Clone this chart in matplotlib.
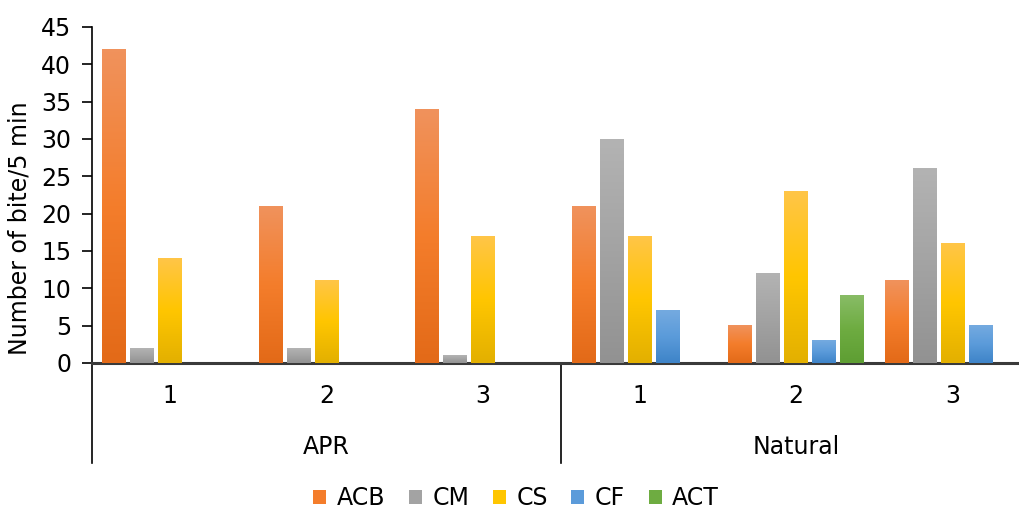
import numpy as np
import matplotlib
matplotlib.use("Agg")
import matplotlib.pyplot as plt
from matplotlib.patches import Patch
from matplotlib.colors import LinearSegmentedColormap

plt.rcParams['font.family'] = ['DejaVu Sans']

groups = ["APR", "Natural"]
sub_labels = ["1", "2", "3", "1", "2", "3"]
series = ["ACB", "CM", "CS", "CF", "ACT"]
ACB = [42, 21, 34, 21, 5, 11]
CM = [2, 2, 1, 30, 12, 26]
CS = [14, 11, 17, 17, 23, 16]
CF = [0, 0, 0, 7, 3, 5]
ACT = [0, 0, 0, 0, 9, 0]
values = [ACB, CM, CS, CF, ACT]

# gradient stops (top, middle, bottom)
grad = {
    "ACB": ["#F0925C", "#F47D2B", "#E36A18"],
    "CM": ["#B3B3B3", "#A3A3A3", "#929292"],
    "CS": ["#FFC547", "#FFC600", "#E3B000"],
    "CF": ["#74AAE0", "#5B9BDA", "#3E84C8"],
    "ACT": ["#88BC66", "#6EAC41", "#5E9E33"],
}
legend_col = {k: v[1] for k, v in grad.items()}

W, H = 1020, 514
FS = 17
fig = plt.figure(figsize=(W / 100, H / 100), dpi=100)
ax = fig.add_axes([92 / W, (H - 363) / H, (1031 - 92) / W, (363 - 27) / H])

step = 0.179
width = 0.153
x = np.arange(6) + 0.5
for i, (name, vals) in enumerate(zip(series, values)):
    cmap = LinearSegmentedColormap.from_list(name, grad[name][::-1])
    g = np.linspace(0, 1, 100).reshape(-1, 1)
    bars = ax.bar(x + (i - 2) * step, vals, width, color=legend_col[name], zorder=2)
    for b in bars:
        h = b.get_height()
        if h <= 0:
            continue
        x0 = b.get_x()
        ax.imshow(g, extent=[x0, x0 + width, 0, h], origin='lower', cmap=cmap,
                  aspect='auto', zorder=3, interpolation='bilinear')

ax.set_xlim(0, 6)
ax.set_ylim(0, 45)
ax.set_yticks(np.arange(0, 46, 5))
ax.tick_params(axis='y', labelsize=FS, length=7, width=1.2, pad=8, colors='#000000')
ax.set_xticks([])
for s in ['top', 'right']:
    ax.spines[s].set_visible(False)
ax.spines['left'].set_linewidth(1.2)
ax.spines['bottom'].set_linewidth(2.2)
ax.spines['bottom'].set_color('#3a3a3a')
fig.text(19.5 / W, 1 - 228 / H, "Number of bite/5 min", rotation=90,
         ha='center', va='center', fontsize=FS)

# two-level category axis
px = 1.0 / (363 - 27)
for xi, lab in zip(x, sub_labels):
    ax.text(xi, -(396 - 363) * px, lab, transform=ax.get_xaxis_transform(),
            ha='center', va='center', fontsize=FS)
for gi, g in enumerate(groups):
    ax.text(1.5 + 3 * gi, -(447 - 363) * px, g, transform=ax.get_xaxis_transform(),
            ha='center', va='center', fontsize=FS)
for xs in [0, 3]:
    ax.plot([xs, xs], [0, -(463 - 363) * px], transform=ax.get_xaxis_transform(),
            color='black', lw=1.2, clip_on=False)

handles = [Patch(facecolor=legend_col[s], label=s) for s in series]
fig.legend(handles=handles, loc='center', bbox_to_anchor=(516 / W, (H - 498) / H),
           ncol=5, frameon=False, fontsize=FS, handlelength=0.55, handleheight=0.55,
           handletextpad=0.45, columnspacing=1.0, borderpad=0)

fig.savefig("out.png", dpi=100)
